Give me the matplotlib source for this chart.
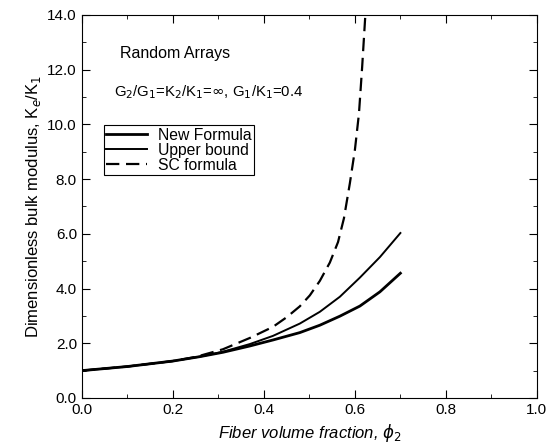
import numpy as np
import matplotlib
matplotlib.use("Agg")
import matplotlib.pyplot as plt
from matplotlib.ticker import MultipleLocator, FormatStrFormatter

plt.rcParams['font.family'] = ['Liberation Sans', 'DejaVu Sans']

# values
phi_new = [0.0, 0.1, 0.2, 0.259, 0.31, 0.369, 0.42, 0.479, 0.523, 0.567, 0.611, 0.655, 0.7]
k_new = [1.0, 1.15, 1.35, 1.51, 1.67, 1.9, 2.12, 2.39, 2.66, 2.99, 3.36, 3.88, 4.56]

phi_upper = [0.0, 0.1, 0.2, 0.259, 0.31, 0.369, 0.42, 0.479, 0.523, 0.567, 0.611, 0.655, 0.7]
k_upper = [1.0, 1.15, 1.35, 1.51, 1.69, 1.97, 2.27, 2.72, 3.15, 3.7, 4.40, 5.15, 6.03]

phi_sc = [0.0, 0.1, 0.2, 0.25, 0.31, 0.37, 0.42, 0.45, 0.479, 0.501, 0.523, 0.545,
          0.563, 0.576, 0.589, 0.600, 0.609, 0.616, 0.623]
k_sc = [1.0, 1.15, 1.35, 1.5, 1.78, 2.2, 2.6, 2.95, 3.35, 3.75, 4.28, 4.95,
        5.7, 6.57, 7.85, 9.06, 10.4, 12.1, 14.0]

fig = plt.figure(figsize=(5.49, 4.43), dpi=100)
ax = fig.add_axes([0.149, 0.1016, 0.829, 0.8646])

ax.plot(phi_new, k_new, color='black', lw=2.0, label='New Formula')
ax.plot(phi_upper, k_upper, color='black', lw=1.4, label='Upper bound')
ax.plot(phi_sc, k_sc, color='black', lw=1.6, ls=(0, (6, 3)), label='SC formula')

ax.set_xlim(0, 1.0)
ax.set_ylim(0, 14.0)
ax.xaxis.set_major_locator(MultipleLocator(0.2))
ax.xaxis.set_minor_locator(MultipleLocator(0.1))
ax.yaxis.set_major_locator(MultipleLocator(2.0))
ax.yaxis.set_minor_locator(MultipleLocator(1.0))
ax.xaxis.set_major_formatter(FormatStrFormatter('%.1f'))
ax.yaxis.set_major_formatter(FormatStrFormatter('%.1f'))
ax.tick_params(which='both', direction='in', top=True, right=True, labelsize=11)
ax.tick_params(which='major', length=6)
ax.tick_params(which='minor', length=3)

ax.set_xlabel('Fiber volume fraction, $\\phi_2$', fontsize=12, style='italic', labelpad=4)
ax.set_ylabel('Dimensionless bulk modulus, K$_e$/K$_1$', fontsize=12, labelpad=3)

ax.text(0.084, 12.6, 'Random Arrays', fontsize=11.5, va='center')
ax.text(0.070, 11.18, 'G$_2$/G$_1$=K$_2$/K$_1$=$\\infty$, G$_1$/K$_1$=0.4',
        fontsize=10.7, va='center')

leg = ax.legend(loc='upper left', bbox_to_anchor=(0.048, 0.712), fontsize=11.3,
                frameon=True, fancybox=False, edgecolor='black', framealpha=1,
                handlelength=2.6, borderpad=0.15, labelspacing=0.0,
                handletextpad=0.7, borderaxespad=0)
leg.get_frame().set_linewidth(0.8)

fig.savefig('out.png', dpi=100)
